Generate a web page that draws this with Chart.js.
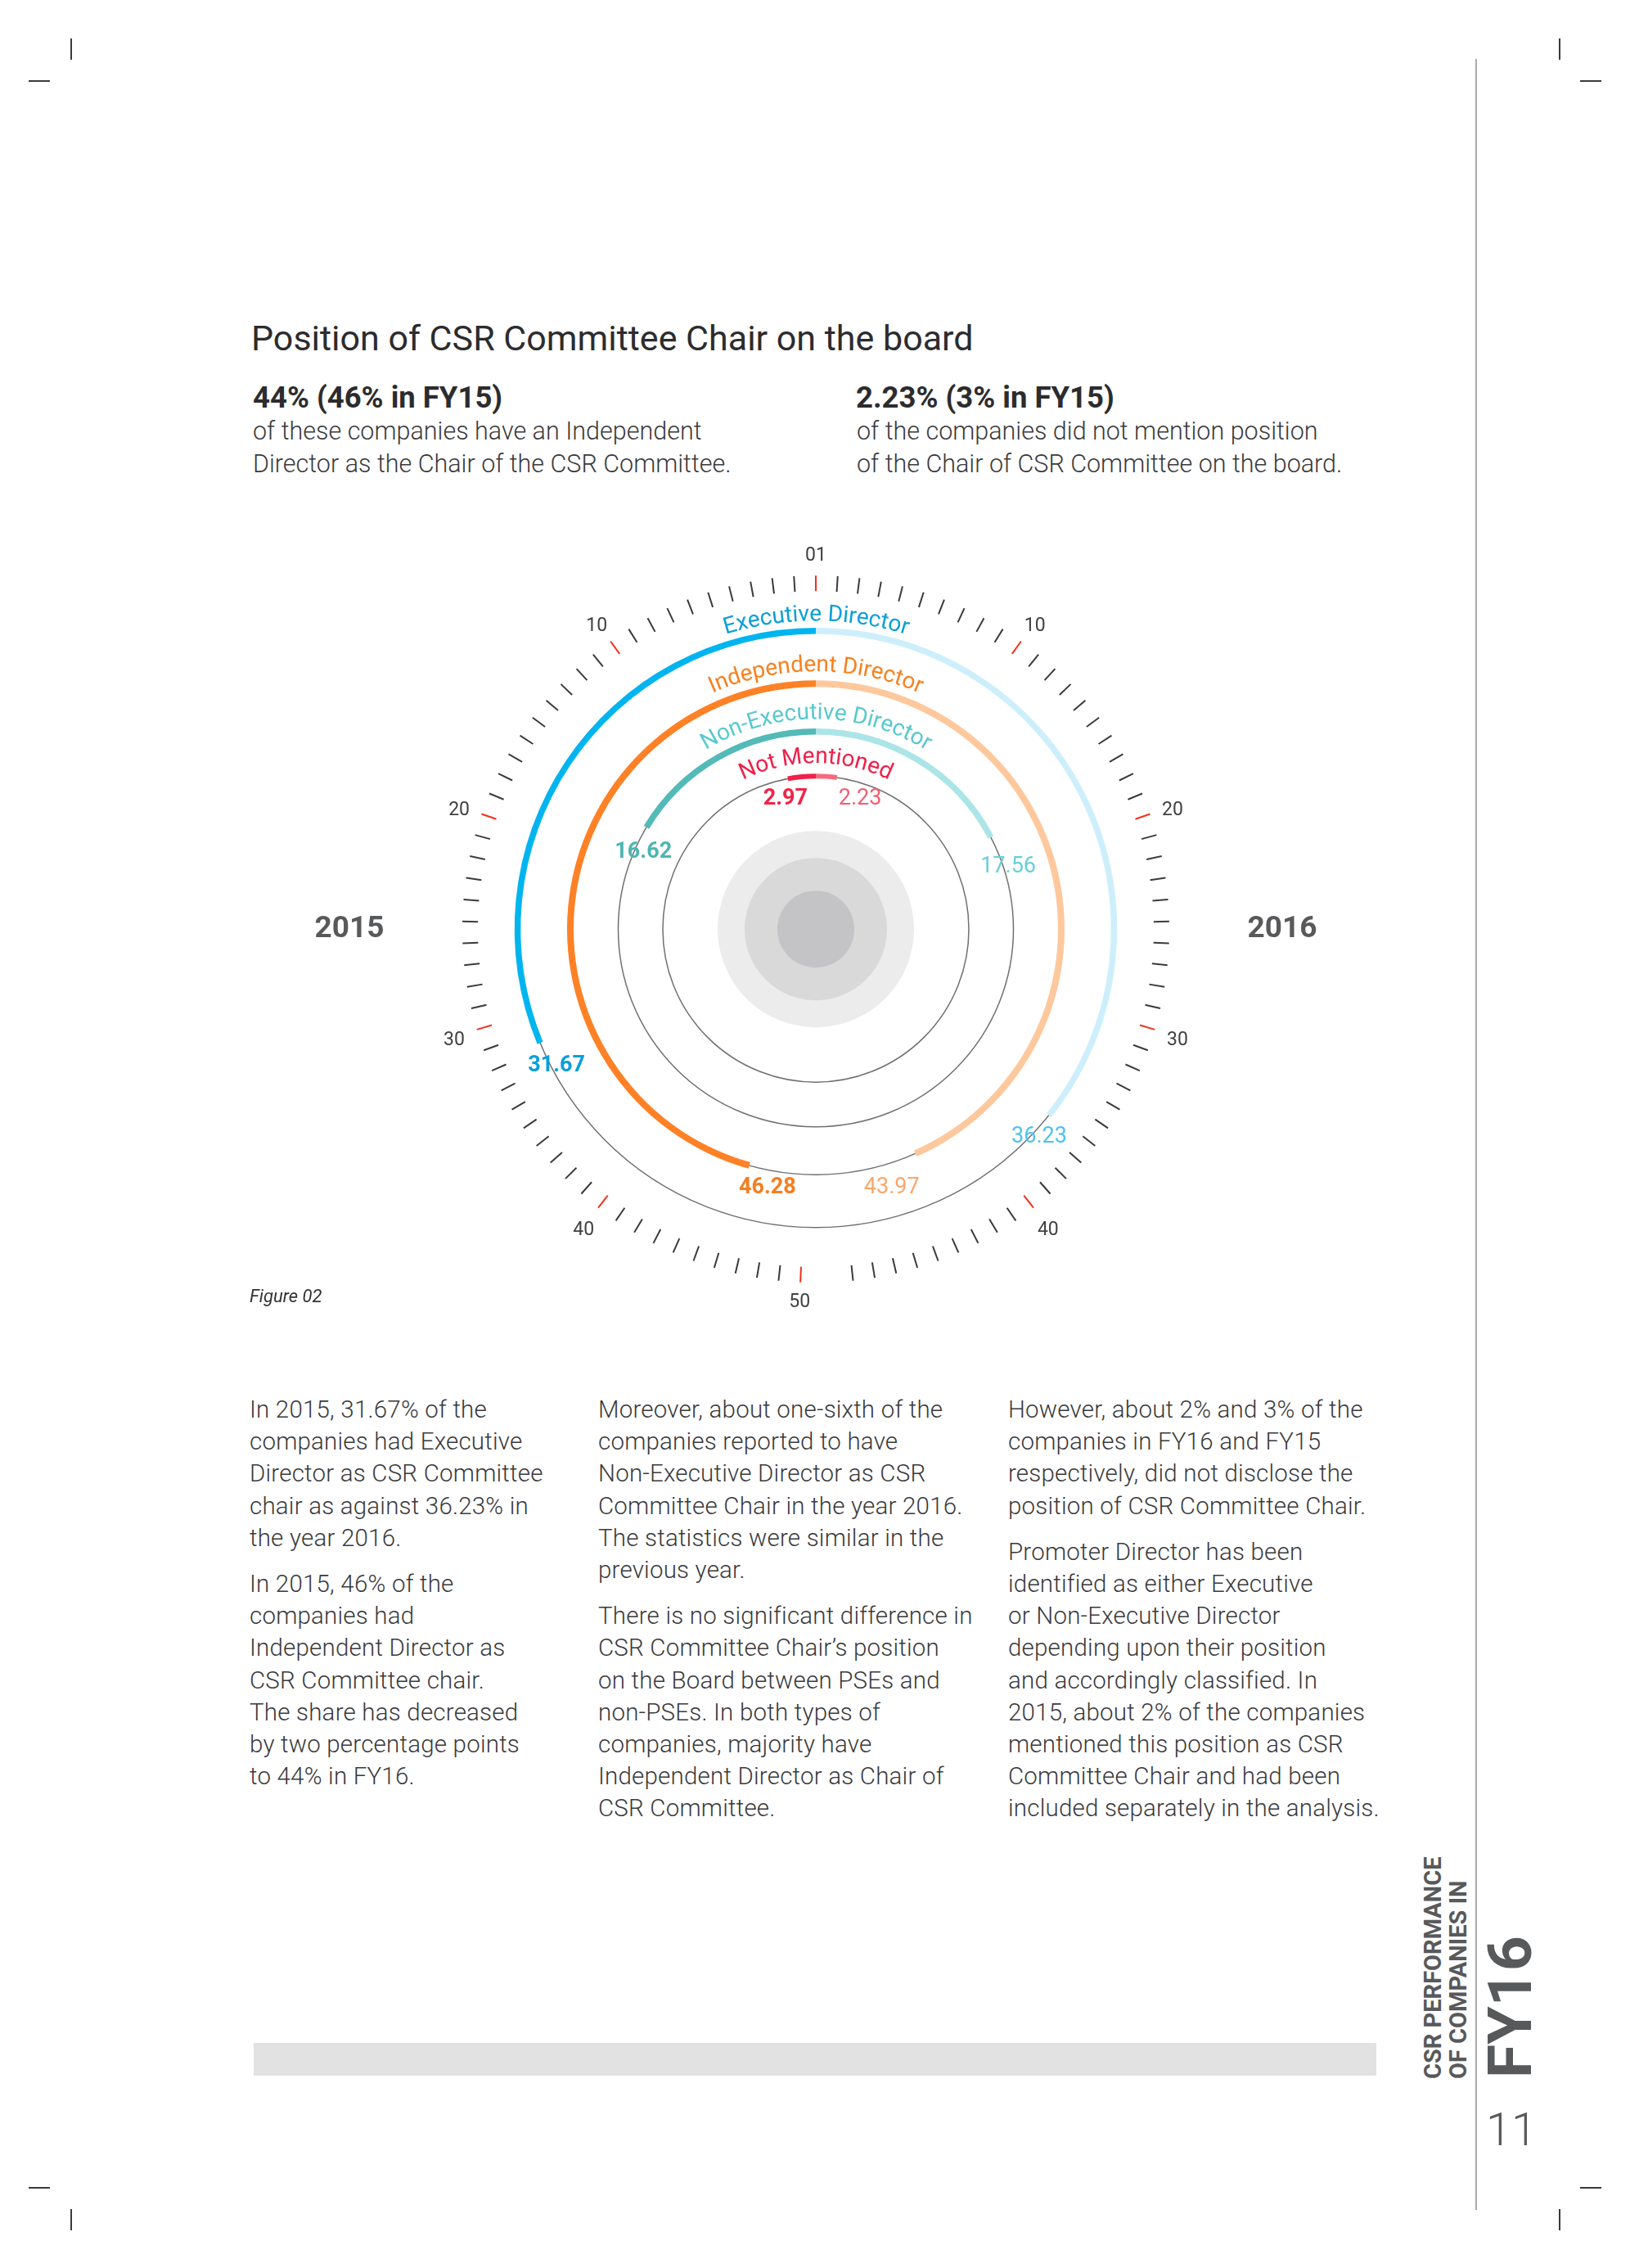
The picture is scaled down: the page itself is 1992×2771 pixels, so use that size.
<!DOCTYPE html>
<html lang="en">
<head>
<meta charset="UTF-8">
<title>Position of CSR Committee Chair on the board</title>
<script src="https://cdn.jsdelivr.net/npm/chart.js@4"></script>
<style>
  body {
    margin: 0;
    width: 1992px;
    height: 2771px;
    position: relative;
    overflow: hidden;
    background: #fff;
    font-family: Roboto, 'Noto Sans', sans-serif;
    color: #3a3a3c;
  }
  .abs { position: absolute; white-space: nowrap; }
  .title { left: 307px; top: 392px; font-size: 43px; line-height: 1; color: #2c2c2e; }
  .head { top: 468px; font-size: 36.5px; font-weight: 700; line-height: 1; color: #2c2c2e; }
  .lead { top: 507px; font-size: 30.5px; font-weight: 300; line-height: 40.3px; }
  .col { top: 1703px; font-size: 29.5px; font-weight: 300; line-height: 39.2px; letter-spacing: 0.2px; }
  .col p { margin: 0 0 17px 0; }
  .fig { left: 305px; top: 1573px; font-size: 22px; font-style: italic; line-height: 1; color: #333; }
  .mark { position: absolute; background: #3a3a3c; }
  .side { position: absolute; white-space: nowrap; transform-origin: 0 0; transform: rotate(-90deg);
          font-weight: 700; line-height: 1; color: #58595b; }
</style>
</head>
<body>

<div class="mark" style="left:86px;top:47px;width:2px;height:26px"></div>
<div class="mark" style="left:35px;top:98px;width:26px;height:2px"></div>
<div class="mark" style="left:1905px;top:47px;width:2px;height:26px"></div>
<div class="mark" style="left:1931px;top:98px;width:26px;height:2px"></div>
<div class="mark" style="left:86px;top:2699px;width:2px;height:26px"></div>
<div class="mark" style="left:35px;top:2672px;width:26px;height:2px"></div>
<div class="mark" style="left:1905px;top:2699px;width:2px;height:26px"></div>
<div class="mark" style="left:1931px;top:2672px;width:26px;height:2px"></div>
<div class="abs" style="left:1803px;top:72px;width:2px;height:2628px;background:#a7a9ac"></div>

<div class="abs title">Position of CSR Committee Chair on the board</div>
<div class="abs head" style="left:309px">44% (46% in FY15)</div>
<div class="abs lead" style="left:309px">of these companies have an Independent<br>Director as the Chair of the CSR Committee.</div>
<div class="abs head" style="left:1046px">2.23% (3% in FY15)</div>
<div class="abs lead" style="left:1047px">of the companies did not mention position<br>of the Chair of CSR Committee on the board.</div>

<div class="abs" style="left:297px;top:635px;width:1400px;height:1000px">
  <canvas id="dial" width="1400" height="1000"></canvas>
</div>

<div class="abs fig">Figure 02</div>

<div class="abs col" style="left:305px">
  <p>In 2015, 31.67% of the<br>companies had Executive<br>Director as CSR Committee<br>chair as against 36.23% in<br>the year 2016.</p>
  <p>In 2015, 46% of the<br>companies had<br>Independent Director as<br>CSR Committee chair.<br>The share has decreased<br>by two percentage points<br>to 44% in FY16.</p>
</div>
<div class="abs col" style="left:731px">
  <p>Moreover, about one-sixth of the<br>companies reported to have<br>Non-Executive Director as CSR<br>Committee Chair in the year 2016.<br>The statistics were similar in the<br>previous year.</p>
  <p>There is no significant difference in<br>CSR Committee Chair’s position<br>on the Board between PSEs and<br>non-PSEs. In both types of<br>companies, majority have<br>Independent Director as Chair of<br>CSR Committee.</p>
</div>
<div class="abs col" style="left:1232px">
  <p>However, about 2% and 3% of the<br>companies in FY16 and FY15<br>respectively, did not disclose the<br>position of CSR Committee Chair.</p>
  <p>Promoter Director has been<br>identified as either Executive<br>or Non-Executive Director<br>depending upon their position<br>and accordingly classified. In<br>2015, about 2% of the companies<br>mentioned this position as CSR<br>Committee Chair and had been<br>included separately in the analysis.</p>
</div>

<div class="abs" style="left:310px;top:2496px;width:1372px;height:40px;background:#e2e2e2"></div>
<div class="side" style="left:1737px;top:2540px;font-size:29px">CSR PERFORMANCE</div>
<div class="side" style="left:1768px;top:2540px;font-size:29px">OF COMPANIES IN</div>
<div class="side" style="left:1808px;top:2539px;font-size:75px">FY16</div>
<div class="abs" style="left:1816px;top:2574px;font-size:56px;font-weight:300;line-height:1;color:#58595b">11</div>

<script>
// data
const categories = ['Executive Director', 'Independent Director', 'Non-Executive Director', 'Not Mentioned'];
const years = ['2015', '2016'];
const share2015 = [31.67, 46.28, 16.62, 2.97];
const share2016 = [36.23, 43.97, 17.56, 2.23];
const halfMax = 50;
const tickLabelValues = [0, 10, 20, 30, 40, 50];
const tickLabels = ['01', '10', '20', '30', '40', '50'];

// look
const ringMid = [364.5, 300, 241.5, 187];
const ringWidth = [7.5, 8, 7.5, 6];
const darkColors = ['#00b5ef', '#ff8126', '#53bab8', '#f21f48'];
const lightColors = ['#cdeffb', '#fec89d', '#abe5e7', '#f8697e'];
const nameColors = ['#0b9fd9', '#f7811f', '#58c9cd', '#ee2049'];
const value15Colors = ['#0a9fd9', '#f57e20', '#4db6b3', '#ef2447'];
const value16Colors = ['#4ec3ee', '#f9a66b', '#67d0d8', '#f25d74'];
const nameGap = [8.5, 11, 11.5, 13];
// [degrees past the arc end, px off the ring centre]
const nudge15 = [[5.0, -7.5], [5.0, 18.5], [6.3, -9.5], [2.4, -21]];
const nudge16 = [[4.0, 6.5], [7.4, 26.5], [9.1, 6.5], [10.5, -16]];
const bottomGap = 5;
const clear = 'rgba(0,0,0,0)';

const datasets = [];
categories.forEach((name, i) => {
    if (i > 0) {
        const gap = (ringMid[i - 1] - ringWidth[i - 1] / 2) - (ringMid[i] + ringWidth[i] / 2);
        datasets.push({ label: 'spacer', data: [1], backgroundColor: [clear], weight: gap, spacer: true });
    }
    datasets.push({
        label: name,
        // left half reads 2015 (counter-clockwise from the top), right half 2016
        data: [halfMax - share2015[i], share2015[i], share2016[i], halfMax - share2016[i]],
        backgroundColor: [clear, darkColors[i], lightColors[i], clear],
        weight: ringWidth[i],
        ring: i
    });
});
datasets.forEach(d => Object.assign(d, { borderWidth: 0, hoverBorderWidth: 0, offset: 0, hoverOffset: 0 }));

const outerR = ringMid[0] + ringWidth[0] / 2;
const innerR = ringMid[3] - ringWidth[3] / 2;

function zeroAngle(chart) {
    return chart.getDatasetMeta(0).data[1].endAngle;
}
function unitAngle(chart) {
    const meta = chart.getDatasetMeta(0);
    return (chart.options.circumference * Math.PI / 180) / meta.total;
}
function dialAngle(chart, value, side) {
    return zeroAngle(chart) + side * value * unitAngle(chart);
}

function curvedText(ctx, text, cx, cy, r, color) {
    ctx.save();
    ctx.font = '400 28px Roboto';
    ctx.fillStyle = color;
    ctx.textAlign = 'center';
    ctx.textBaseline = 'alphabetic';
    const total = ctx.measureText(text).width;
    let a = -Math.PI / 2 - total / r / 2;
    for (const ch of text) {
        const w = ctx.measureText(ch).width;
        const mid = a + (w / 2) / r;
        ctx.save();
        ctx.translate(cx + r * Math.cos(mid), cy + r * Math.sin(mid));
        ctx.rotate(mid + Math.PI / 2);
        ctx.fillText(ch, 0, 0);
        ctx.restore();
        a += w / r;
    }
    ctx.restore();
}

const dialDecor = {
    id: 'dialDecor',
    beforeDatasetsDraw(chart) {
        const ctx = chart.ctx;
        const first = chart.getDatasetMeta(0).data[0];
        const cx = first.x, cy = first.y;

        ctx.save();
        [[120, '#ececec'], [87, '#d9d9da'], [47, '#c4c4c6']].forEach(([r, c]) => {
            ctx.beginPath();
            ctx.arc(cx, cy, r, 0, Math.PI * 2);
            ctx.fillStyle = c;
            ctx.fill();
        });

        // thin guide circle through every ring
        ctx.strokeStyle = '#707072';
        ctx.lineWidth = 1.5;
        chart.data.datasets.forEach((ds, di) => {
            if (ds.spacer) return;
            const a = chart.getDatasetMeta(di).data[0];
            ctx.beginPath();
            ctx.arc(cx, cy, (a.innerRadius + a.outerRadius) / 2, 0, Math.PI * 2);
            ctx.stroke();
        });

        // dial ticks, one per unit on each side
        ctx.lineWidth = 2;
        const drawTick = (v, side) => {
            const ang = dialAngle(chart, v, side);
            ctx.strokeStyle = v % 10 === 0 ? '#f2301f' : '#3a3a3c';
            ctx.beginPath();
            ctx.moveTo(cx + 413 * Math.cos(ang), cy + 413 * Math.sin(ang));
            ctx.lineTo(cx + 432 * Math.cos(ang), cy + 432 * Math.sin(ang));
            ctx.stroke();
        };
        for (let v = 0; v <= halfMax; v++) drawTick(v, -1);
        for (let v = 1; v < halfMax; v++) drawTick(v, 1);

        ctx.fillStyle = '#414042';
        ctx.font = '400 23px Roboto';
        ctx.textAlign = 'center';
        ctx.textBaseline = 'middle';
        tickLabelValues.forEach((v, k) => {
            const sides = (v === 0 || v === halfMax) ? [-1] : [-1, 1];
            sides.forEach(side => {
                const ang = dialAngle(chart, v, side);
                const r = v === halfMax ? 452 : 461;
                ctx.fillText(tickLabels[k], cx + r * Math.cos(ang), cy + r * Math.sin(ang) + 5);
            });
        });
        ctx.restore();
    },
    afterDatasetsDraw(chart) {
        const ctx = chart.ctx;
        const first = chart.getDatasetMeta(0).data[0];
        const cx = first.x, cy = first.y;

        chart.data.datasets.forEach((ds, di) => {
            if (ds.spacer) return;
            const i = ds.ring;
            const el = chart.getDatasetMeta(di).data[1];
            const mid = (el.innerRadius + el.outerRadius) / 2;
            curvedText(ctx, categories[i], cx, cy, el.outerRadius + nameGap[i], nameColors[i]);

            ctx.save();
            ctx.textAlign = 'center';
            ctx.textBaseline = 'alphabetic';
            const put = (value, side, nudge, weight, color) => {
                const ang = dialAngle(chart, value, side) + side * nudge[0] * Math.PI / 180;
                const r = mid + nudge[1];
                ctx.font = weight + ' 27px Roboto';
                ctx.fillStyle = color;
                ctx.fillText(value.toFixed(2), cx + r * Math.cos(ang), cy + r * Math.sin(ang) + 9.6);
            };
            put(share2015[i], -1, nudge15[i], 700, value15Colors[i]);
            put(share2016[i], 1, nudge16[i], 400, value16Colors[i]);
            ctx.restore();
        });

        ctx.save();
        ctx.font = '700 37px Roboto';
        ctx.fillStyle = '#58595b';
        ctx.textAlign = 'center';
        ctx.textBaseline = 'alphabetic';
        ctx.fillText(years[0], cx - 570, cy + 10);
        ctx.fillText(years[1], cx + 570, cy + 10);
        ctx.restore();
    }
};

new Chart(document.getElementById('dial'), {
    type: 'doughnut',
    data: { labels: ['2015 rest', '2015', '2016', '2016 rest'], datasets },
    options: {
        responsive: false,
        animation: false,
        events: [],
        rotation: 180 + bottomGap / 2,
        circumference: 360 - bottomGap,
        radius: outerR,
        cutout: (innerR / outerR * 100) + '%',
        layout: { padding: 0 },
        plugins: { legend: { display: false }, tooltip: { enabled: false } }
    },
    plugins: [dialDecor]
});
</script>
</body>
</html>
